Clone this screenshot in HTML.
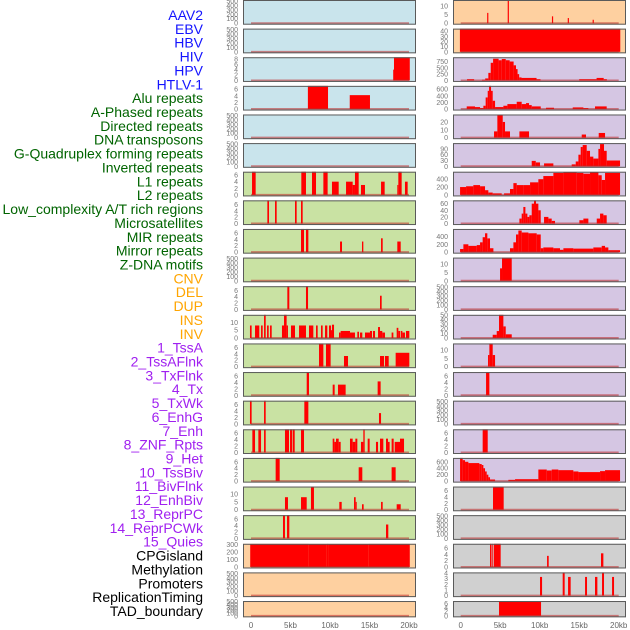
<!DOCTYPE html>
<html><head><meta charset="utf-8"><style>
html,body{margin:0;padding:0;background:#fff;}
svg{display:block;font-family:"Liberation Sans",sans-serif;}
</style></head><body>
<svg id="chart" width="630" height="630" viewBox="0 0 630 630" xmlns="http://www.w3.org/2000/svg"></svg>
<script>
const trackNames = ["AAV2","EBV","HBV","HIV","HPV","HTLV-1","Alu repeats","A-Phased repeats","Directed repeats","DNA transposons","G-Quadruplex forming repeats","Inverted repeats","L1 repeats","L2 repeats","Low_complexity A/T rich regions","Microsatellites","MIR repeats","Mirror repeats","Z-DNA motifs","CNV","DEL","DUP","INS","INV","1_TssA","2_TssAFlnk","3_TxFlnk","4_Tx","5_TxWk","6_EnhG","7_Enh","8_ZNF_Rpts","9_Het","10_TssBiv","11_BivFlnk","12_EnhBiv","13_ReprPC","14_ReprPCWk","15_Quies","CPGisland","Methylation","Promoters","ReplicationTiming","TAD_boundary"];
const labelColors = ["#1414ff","#1414ff","#1414ff","#1414ff","#1414ff","#1414ff","#006400","#006400","#006400","#006400","#006400","#006400","#006400","#006400","#006400","#006400","#006400","#006400","#006400","#ffa500","#ffa500","#ffa500","#ffa500","#ffa500","#a020f0","#a020f0","#a020f0","#a020f0","#a020f0","#a020f0","#a020f0","#a020f0","#a020f0","#a020f0","#a020f0","#a020f0","#a020f0","#a020f0","#a020f0","#000","#000","#000","#000","#000"];
const T500=[0,100,200,300,400,500], T6=[0,2,4,6], T10=[0,5,10];
const yTicks = [T500,[0,5,10],T500,[0,10,20,30,40],[0,2,4,6,8],[0,250,500,750],T6,[0,200,400,600],T500,[0,10,20],T500,[0,30,60,90],T6,[0,200,400],T6,[0,20,40,60],T6,[0,200,400],T500,T10,T6,T500,T10,[0,10,20,30,40,50],T6,T10,T6,T6,T6,T500,T6,T6,T6,[0,200,400,600],T10,T6,T6,T500,[0,100,200,300],T6,T500,[0,1,2,3,4],T500,T6];
const yMax = [520,13.5,520,45,8.6,920,7,700,520,29.5,520,120,7,590,7.3,70,7.2,590,520,14,7.3,520,14.8,50,7.2,14,7.2,7.2,7.1,520,7.2,7.2,7.2,720,14.8,7.2,7.2,520,312,7.3,520,4.1,520,7.2];
const xTickValues = [0,5,10,15,20];
const xTickLabels = ["0","5kb","10kb","15kb","20kb"];
const bgLeft = ["#c9e4ec","#c9e4ec","#c9e4ec","#c9e4ec","#c9e4ec","#c9e4ec","#c9e2a3","#c9e2a3","#c9e2a3","#c9e2a3","#c9e2a3","#c9e2a3","#c9e2a3","#c9e2a3","#c9e2a3","#c9e2a3","#c9e2a3","#c9e2a3","#c9e2a3","#fed0a0","#fed0a0","#fed0a0"];
const bgRight = ["#fed0a0","#fed0a0","#d5c6e3","#d5c6e3","#d5c6e3","#d5c6e3","#d5c6e3","#d5c6e3","#d5c6e3","#d5c6e3","#d5c6e3","#d5c6e3","#d5c6e3","#d5c6e3","#d5c6e3","#d5c6e3","#d5c6e3","#d0d0d0","#d0d0d0","#d0d0d0","#d0d0d0","#d0d0d0"];

const barsAAV2=[];
const barsEBV=[[3.35,3.5,6],[5.95,6.1,13],[11.55,11.7,4],[13.55,13.7,3],[16.7,16.85,2]];
const barsHBV=[];
const barsHIV=[[-0.1,20.2,45]];
const barsHPV=[[18.0,18.1,4],[18.1,20.1,8.6]];
const barsHTLV=[[0.8,1.7,50],[2.7,3.1,30],[3.1,3.5,80],[3.5,3.8,300],[3.8,4.1,700],[4.1,4.8,860],[4.8,5.2,800],[5.2,5.7,850],[5.7,6.2,800],[6.2,6.7,750],[6.7,7.0,600],[7.0,7.2,450],[7.2,7.4,250],[7.4,7.7,120],[7.7,9.6,100],[9.6,10.1,50],[15.0,17.2,50],[17.2,18.1,100],[18.1,18.5,50]];
const barsAlu=[[7.2,9.75,7],[12.5,15.06,4.2]];
const barsAPhased=[[0.76,1.81,80],[1.81,2.45,60],[2.45,2.87,30],[2.87,3.16,100],[3.16,3.42,350],[3.42,3.59,550],[3.59,3.84,700],[3.84,4.05,550],[4.05,4.35,250],[4.35,5.4,60],[5.4,5.91,100],[5.91,7.09,150],[7.09,7.72,220],[7.72,8.27,150],[8.27,8.65,180],[8.65,8.99,120],[8.99,10.13,80],[10.8,11.81,40],[14.18,15.53,50],[15.53,16.16,30],[17.0,18.48,80]];
const barsDirected=[];
const barsDNATrans=[[4.22,4.64,8],[4.64,5.32,29],[5.32,5.61,20],[5.61,6.24,8],[7.43,8.65,8],[15.32,15.86,4],[17.47,18.27,6]];
const barsGQuad=[];
const barsInverted=[[8.99,9.5,28],[9.5,10.04,20],[10.55,11.73,15],[14.05,14.56,10],[14.56,14.9,25],[14.9,15.19,60],[15.19,15.44,100],[15.44,15.95,110],[15.95,16.37,80],[16.37,16.79,50],[16.79,17.43,40],[17.43,17.64,90],[17.64,18.14,115],[18.14,18.48,80],[18.48,18.9,30],[18.9,20.17,30]];
const barsL1=[[0.13,0.59,7],[6.37,6.96,7],[7.72,8.23,7],[9.16,9.7,7],[10.25,11.1,4],[12.03,12.87,4],[12.87,13.16,3],[13.16,13.63,7],[13.92,14.43,3],[16.46,16.92,4],[18.52,18.65,3],[18.65,19.07,7],[19.49,19.83,4]];
const barsL2=[[-0.08,0.68,200],[0.68,1.6,220],[1.6,2.45,250],[2.45,3.08,220],[3.08,3.5,120],[3.5,4.05,60],[4.05,5.19,40],[5.49,6.24,40],[6.24,6.67,150],[6.67,7.09,300],[7.09,7.93,250],[7.93,8.78,250],[8.78,9.83,320],[9.83,10.46,400],[10.46,11.73,480],[11.73,13.0,560],[13.0,14.68,580],[14.68,15.53,560],[15.53,16.37,540],[16.37,17.43,580],[17.43,17.85,500],[17.85,18.27,380],[18.27,20.17,560]];
const barsLowComp=[[2.07,2.28,7.3],[3.04,3.25,7.3],[5.57,5.78,7.3],[6.33,6.54,7.3]];
const barsMicro=[[7.43,7.72,15],[7.72,7.93,30],[7.93,8.19,50],[8.19,8.44,30],[8.44,8.69,20],[8.69,8.99,25],[8.99,9.28,60],[9.28,9.53,70],[9.53,9.83,60],[9.83,10.13,40],[10.55,11.1,20],[11.1,11.52,15],[11.52,11.94,8],[15.02,15.53,10],[15.53,16.16,15],[17.22,17.64,15],[17.64,18.06,30],[18.06,18.48,25]];
const barsMIR=[[6.33,6.71,7.2],[6.96,7.26,7.2],[11.27,11.52,3.3],[14.05,14.22,3.3],[16.46,16.67,4.3],[18.52,18.95,3.3]];
const barsMirror=[[-0.08,0.34,80],[0.34,0.97,200],[0.97,2.03,160],[2.03,2.45,180],[2.45,2.78,250],[2.78,3.08,380],[3.08,3.37,480],[3.37,3.71,350],[3.71,4.14,100],[6.24,6.67,100],[6.67,7.0,250],[7.0,7.3,450],[7.3,7.72,550],[7.72,8.57,500],[8.57,9.62,480],[9.62,10.13,450],[10.13,10.46,100],[10.46,11.73,120],[11.73,12.57,100],[12.57,13.0,60],[13.0,14.26,100],[14.26,16.79,90],[16.79,17.85,120],[17.85,18.27,160],[18.27,18.69,120],[18.69,20.17,50]];
const barsZDNA=[];
const barsCNV=[[4.98,5.23,7.5],[5.23,6.46,14]];
const barsDEL=[[4.6,4.85,7.3],[6.96,7.22,7.3],[16.33,16.54,4.3]];
const barsDUP=[];
const barsINS=[[-0.13,0.08,8],[0.51,1.05,8],[1.27,1.48,8],[1.65,1.86,14.8],[2.03,2.24,8],[2.41,2.62,8],[3.92,4.18,8],[4.18,4.51,14.8],[4.51,4.68,8],[5.06,5.57,8],[6.08,6.96,8],[7.34,7.89,8],[8.23,8.44,8],[8.86,9.07,8],[9.37,9.66,8],[9.87,10.13,8],[10.13,10.25,5],[10.25,10.51,8.5],[11.14,11.35,3.5],[11.35,12.53,4.5],[12.53,13.16,3.5],[13.46,13.67,4],[13.8,14.09,3.5],[14.43,15.06,3.5],[15.06,15.32,4.5],[15.44,15.7,4.5],[16.08,16.33,7],[16.33,16.62,4.5],[16.62,16.96,3.5],[17.8,18.02,3.5],[18.44,18.65,6.5],[18.65,18.86,4.5],[18.95,19.16,4.5],[19.16,19.49,3.5],[19.62,20.04,4.5]];
const barsINV=[[4.05,4.56,7],[4.56,4.85,15],[4.85,5.4,50],[5.4,5.7,25],[5.7,6.46,8]];
const barsTssA=[[8.61,9.16,7.2],[9.49,10.08,7.2],[11.77,12.28,3.3],[16.33,16.84,3.3],[16.96,17.43,3.3],[18.31,20.04,4.3]];
const barsTssAFlnk=[[3.46,3.63,7],[3.63,4.05,14],[4.05,4.35,7]];
const barsTxFlnk=[[7.05,7.34,7.2],[10.34,10.59,3.3],[11.01,11.98,3.3],[16.03,16.41,4.3]];
const barsTx=[[3.21,3.63,7.2]];
const barsTxWk=[[-0.13,0.08,7.1],[1.65,1.86,7.1],[6.75,7.26,7.1],[16.2,16.46,3.3]];
const barsEnhG=[];
const barsEnh=[[0.17,0.51,7.2],[0.93,1.27,7.2],[1.65,1.86,7.2],[4.3,4.81,7.2],[4.94,5.19,7.2],[5.27,5.53,7.2],[6.33,6.71,7.2],[10.34,10.55,4.3],[10.55,10.76,3.3],[10.76,11.1,4.3],[11.1,11.35,3.3],[12.53,12.87,4.3],[12.87,13.21,3.3],[13.21,13.46,4.3],[13.92,14.22,3.3],[14.22,14.39,7.2],[14.77,15.02,4.3],[15.82,16.08,3.3],[16.33,16.75,4.3],[17.09,17.34,4.3],[17.34,17.55,3.3],[17.8,18.06,4.3],[18.19,18.86,3.3],[18.86,19.37,4.3]];
const barsZNF=[[2.78,3.42,7.2]];
const barsHet=[[3.12,3.63,7.2],[13.63,14.09,4.3],[17.8,18.31,4.3]];
const barsTssBiv=[[-0.08,0.25,720],[0.25,0.55,650],[0.55,0.97,600],[0.97,2.36,560],[2.36,2.66,530],[2.66,2.87,500],[2.87,3.08,400],[3.08,3.29,300],[3.29,3.5,200],[3.5,3.71,120],[3.71,4.35,50],[6.03,6.88,40],[6.88,9.83,60],[9.83,10.89,360],[10.89,11.52,330],[11.52,12.36,360],[12.36,14.26,340],[14.26,14.9,300],[14.9,17.64,280],[17.64,18.27,310],[18.27,20.17,340]];
const barsBivFlnk=[[4.3,4.68,8],[6.33,7.05,8],[7.59,7.97,14.8],[11.18,11.48,5],[13.04,13.25,8],[13.25,13.38,5],[14.05,14.26,3.5],[16.46,16.67,5],[18.44,18.95,3.5]];
const barsEnhBiv=[[4.09,5.44,7.2]];
const barsReprPC=[[4.05,4.3,7.2],[4.56,4.85,7.2],[17.09,17.38,4.3]];
const barsReprPCWk=[];
const barsQuies=[[-0.1,7.3,310],[7.3,9.6,305],[9.6,9.8,310],[9.8,14.9,305],[14.9,20.1,310]];
const barsCPG=[[3.71,3.84,7.3],[3.9,4.05,7.3],[4.18,5.06,7.3],[10.93,11.14,3.5],[17.76,18.06,4.3]];
const barsMethyl=[];
const barsPromoters=[[10.04,10.3,3.3],[12.91,13.16,4.1],[13.59,13.92,3.3],[15.74,15.99,3.3],[17.0,17.3,3.3],[17.89,18.14,4.1],[19.16,19.41,3.3]];
const barsRepTiming=[];
const barsTAD=[[4.85,10.17,7.2]];

const trackBars=[barsAAV2,barsEBV,barsHBV,barsHIV,barsHPV,barsHTLV,barsAlu,barsAPhased,barsDirected,barsDNATrans,barsGQuad,barsInverted,barsL1,barsL2,barsLowComp,barsMicro,barsMIR,barsMirror,barsZDNA,barsCNV,barsDEL,barsDUP,barsINS,barsINV,barsTssA,barsTssAFlnk,barsTxFlnk,barsTx,barsTxWk,barsEnhG,barsEnh,barsZNF,barsHet,barsTssBiv,barsBivFlnk,barsEnhBiv,barsReprPC,barsReprPCWk,barsQuies,barsCPG,barsMethyl,barsPromoters,barsRepTiming,barsTAD];

const NS="http://www.w3.org/2000/svg";
const svg=document.getElementById('chart');
function mk(tag,attrs,parent){const e=document.createElementNS(NS,tag);for(const k in attrs)e.setAttribute(k,attrs[k]);(parent||svg).appendChild(e);return e;}

// labels
trackNames.forEach((n,i)=>{
  const t=mk('text',{x:203,y:15+i*13.86+5,'text-anchor':'end','font-size':'14',fill:labelColors[i]});
  
  
  t.textContent=n;
});

const colX=[[243,416,251],[453,626,460.7]];
const pxPerKb=7.9;
for(let i=0;i<44;i++){
  const row=Math.floor(i/2), col=i%2;
  const [x0,x1,z]=colX[col];
  const top=row*28.62;
  const h=row===21?16.3:24.7;
  const g=mk('g',{});
  
  
  mk('rect',{x:x0,y:top,width:x1-x0,height:h,fill:col?bgRight[row]:bgLeft[row]},g);
  const yb=top+h-1.5, span=h-1.5;
  const ys=v=>yb-Math.min(v,yMax[i])/yMax[i]*span;
  const xs=k=>z+k*pxPerKb;
  trackBars[i].forEach(b=>{
    const r=mk('rect',{x:xs(b[0]),y:ys(b[2]),width:Math.max(1,xs(b[1])-xs(b[0])),height:yb-ys(b[2]),fill:'#ff0000'},g);
    
    
  });
  const bl=mk('line',{x1:xs(0),x2:xs(20),y1:yb,y2:yb,stroke:'rgba(190,40,40,0.55)','stroke-width':2},g);
  
  
  mk('rect',{x:x0+0.5,y:top+0.5,width:x1-x0-1,height:h-1,fill:'none',stroke:'#5a5a5a','stroke-width':1},g);
  const tx=col?448:238;
  yTicks[i].forEach(v=>{
    const t=mk('text',{x:tx,y:ys(v)+2.5,'text-anchor':'end','font-size':'7',fill:'#777'},g);
    
    
    t.textContent=v;
  });
}
// x axis labels
colX.forEach(c=>{
  xTickValues.forEach((v,j)=>{
    const t=mk('text',{x:c[2]+v*pxPerKb,y:628,'text-anchor':'middle','font-size':'8',fill:'#666'});
    
    
    t.textContent=xTickLabels[j];
  });
});
</script>
</body></html>
